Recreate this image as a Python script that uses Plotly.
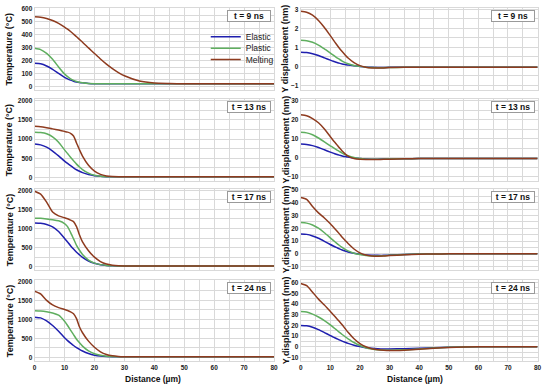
import plotly.graph_objects as go

# ---------------- data ----------------
X = [0, 2, 4, 6, 8, 10, 11, 12, 13, 14, 15, 16, 18, 20, 22, 24, 26, 28, 30, 35, 40, 45, 50, 60, 70, 80]
series_names = ["Elastic", "Plastic", "Melting"]
time_labels = ["t = 9 ns", "t = 13 ns", "t = 17 ns", "t = 24 ns"]

T9_elastic = [180, 175, 158, 132, 100, 70, 58, 48, 40, 34, 30, 27, 23, 21, 20, 20, 20, 20, 20, 20, 20, 20, 20, 20, 20, 20]
T9_plastic = [295, 285, 255, 210, 150, 95, 75, 58, 46, 38, 32, 28, 23, 21, 20, 20, 20, 20, 20, 20, 20, 20, 20, 20, 20, 20]
T9_melting = [540, 536, 526, 510, 488, 460, 443, 425, 405, 385, 363, 342, 298, 255, 212, 172, 137, 107, 82, 42, 26, 22, 20, 20, 20, 20]

T13_elastic = [870, 850, 790, 690, 565, 430, 368, 310, 255, 205, 165, 130, 80, 50, 33, 25, 21, 20, 20, 20, 20, 20, 20, 20, 20, 20]
T13_plastic = [1180, 1170, 1140, 1060, 920, 720, 625, 530, 440, 350, 275, 210, 115, 60, 35, 25, 21, 20, 20, 20, 20, 20, 20, 20, 20, 20]
T13_melting = [1330, 1320, 1295, 1265, 1235, 1200, 1180, 1150, 1080, 900, 720, 560, 320, 170, 85, 45, 28, 22, 20, 20, 20, 20, 20, 20, 20, 20]

T17_elastic = [1145, 1135, 1105, 1040, 920, 740, 645, 550, 462, 380, 310, 245, 150, 90, 52, 33, 24, 21, 20, 20, 20, 20, 20, 20, 20, 20]
T17_plastic = [1270, 1265, 1250, 1230, 1200, 1130, 1050, 900, 730, 560, 430, 320, 175, 95, 55, 35, 25, 21, 20, 20, 20, 20, 20, 20, 20, 20]
T17_melting = [1975, 1900, 1690, 1430, 1330, 1280, 1255, 1220, 1180, 1050, 830, 650, 420, 250, 135, 70, 40, 26, 21, 20, 20, 20, 20, 20, 20, 20]

T24_elastic = [1060, 1040, 960, 840, 690, 520, 445, 380, 315, 260, 212, 170, 105, 62, 38, 27, 22, 20, 20, 20, 20, 20, 20, 20, 20, 20]
T24_plastic = [1230, 1220, 1200, 1170, 1110, 950, 840, 720, 600, 480, 385, 300, 175, 100, 58, 35, 25, 21, 20, 20, 20, 20, 20, 20, 20, 20]
T24_melting = [1740, 1670, 1500, 1380, 1310, 1260, 1235, 1200, 1150, 1020, 800, 650, 430, 270, 150, 80, 45, 28, 22, 20, 20, 20, 20, 20, 20, 20]

D9_elastic = [0.75, 0.73, 0.67, 0.57, 0.45, 0.33, 0.27, 0.22, 0.17, 0.13, 0.10, 0.07, 0.03, 0.0, -0.03, -0.05, -0.06, -0.06, -0.05, -0.05, -0.05, -0.05, -0.05, -0.05, -0.05, -0.05]
D9_plastic = [1.38, 1.35, 1.27, 1.12, 0.92, 0.70, 0.59, 0.48, 0.38, 0.28, 0.20, 0.14, 0.05, 0.0, -0.04, -0.06, -0.07, -0.07, -0.06, -0.05, -0.05, -0.05, -0.05, -0.05, -0.05, -0.05]
D9_melting = [2.90, 2.85, 2.70, 2.42, 2.05, 1.62, 1.40, 1.18, 0.97, 0.78, 0.60, 0.44, 0.20, 0.04, -0.04, -0.08, -0.09, -0.08, -0.06, -0.05, -0.05, -0.05, -0.05, -0.05, -0.05, -0.05]

D13_elastic = [7.1, 6.9, 6.3, 5.3, 4.1, 2.9, 2.35, 1.8, 1.3, 0.9, 0.55, 0.3, -0.2, -0.5, -0.7, -0.8, -0.8, -0.75, -0.7, -0.6, -0.5, -0.5, -0.5, -0.5, -0.5, -0.5]
D13_plastic = [13.3, 13.0, 12.0, 10.3, 8.3, 6.2, 5.2, 4.2, 3.3, 2.4, 1.6, 1.0, 0.1, -0.5, -0.8, -0.9, -0.9, -0.8, -0.7, -0.6, -0.5, -0.5, -0.5, -0.5, -0.5, -0.5]
D13_melting = [22.5, 22.0, 20.5, 18.3, 15.0, 11.0, 9.0, 7.2, 5.3, 3.5, 2.0, 0.8, -0.5, -0.9, -1.0, -1.0, -1.0, -0.9, -0.8, -0.6, -0.5, -0.5, -0.5, -0.5, -0.5, -0.5]

D17_elastic = [15.5, 15.2, 14.0, 12.2, 9.8, 7.3, 6.1, 5.0, 4.0, 3.0, 2.2, 1.5, 0.4, -0.4, -0.9, -1.1, -1.2, -1.2, -1.0, -0.5, -0.2, -0.1, 0, 0, 0, 0]
D17_plastic = [24.5, 24.0, 22.5, 20.0, 16.5, 12.5, 10.5, 8.5, 6.7, 5.0, 3.5, 2.3, 0.5, -0.6, -1.3, -1.6, -1.6, -1.5, -1.2, -0.6, -0.2, -0.1, 0, 0, 0, 0]
D17_melting = [44.0, 42.5, 37.0, 32.0, 28.0, 23.5, 21.0, 18.5, 15.8, 13.0, 10.5, 8.0, 3.8, 0.8, -0.9, -1.6, -1.8, -1.7, -1.4, -0.7, -0.3, -0.1, 0, 0, 0, 0]

D24_elastic = [20.0, 19.6, 18.2, 16.0, 13.3, 10.5, 9.1, 7.8, 6.5, 5.3, 4.2, 3.2, 1.5, 0.2, -0.8, -1.4, -1.8, -2.0, -2.0, -1.8, -1.3, -0.8, -0.4, 0, 0, 0]
D24_plastic = [33.0, 32.5, 30.5, 27.8, 24.5, 20.5, 18.2, 16.0, 13.7, 11.5, 9.4, 7.5, 4.0, 1.2, -0.8, -2.0, -2.7, -3.0, -3.1, -2.8, -2.0, -1.2, -0.5, 0, 0, 0]
D24_melting = [59.0, 57.0, 51.0, 44.5, 39.0, 33.0, 30.0, 27.0, 23.8, 20.5, 17.0, 13.5, 7.5, 3.0, 0.0, -1.8, -2.8, -3.3, -3.5, -3.1, -2.3, -1.3, -0.6, 0, 0, 0]

temp_ticks = [[0, 100, 200, 300, 400, 500, 600], [0, 500, 1000, 1500, 2000], [0, 500, 1000, 1500, 2000], [0, 500, 1000, 1500, 2000]]
disp_ticks = [[-1, 0, 1, 2, 3], [-10, 0, 10, 20, 30], [-10, 0, 10, 20, 30, 40, 50], [-10, 0, 10, 20, 30, 40, 50, 60]]
x_ticks = [0, 10, 20, 30, 40, 50, 60, 70, 80]

# ---------------- styling / layout ----------------
W, H = 550, 386
COLORS = ["#1f1fae", "#5fae5f", "#8e3b1f"]
FONT = "Liberation Sans, Arial, sans-serif"
GRID = "#d9d9d9"

temp_data = [(T9_elastic, T9_plastic, T9_melting), (T13_elastic, T13_plastic, T13_melting),
             (T17_elastic, T17_plastic, T17_melting), (T24_elastic, T24_plastic, T24_melting)]
disp_data = [(D9_elastic, D9_plastic, D9_melting), (D13_elastic, D13_plastic, D13_melting),
             (D17_elastic, D17_plastic, D17_melting), (D24_elastic, D24_plastic, D24_melting)]

rows_px = [(5, 88), (97, 179), (187.5, 269.5), (279.5, 361)]
left_tick_px = [(6, 84), (98.3, 176), (188.7, 265.8), (280.5, 357.3)]
right_tick_px = [(6.5, 83), (98.3, 175), (188.3, 265.7), (281.7, 357.3)]
left_x_px = (33, 275)
right_x_px = (302, 541.5)
legend_names = ["legend", "legend2", "legend3"]
legend_y_px = [34, 45.5, 57]


def rng(ticks, tpx, rpx):
    lo, hi = ticks[0], ticks[-1]
    upp = (hi - lo) / (tpx[1] - tpx[0])
    return [lo - (rpx[1] - tpx[1]) * upp, hi + (tpx[0] - rpx[0]) * upp]


def ydom(rpx):
    return [1 - rpx[1] / H, 1 - rpx[0] / H]


fig = go.Figure()
layout = {}
annotations = []
tickfont = dict(family=FONT, size=6.5, color="#222", weight="bold")

for r in range(4):
    for c in range(2):
        idx = r * 2 + c + 1
        xa = "xaxis" if idx == 1 else f"xaxis{idx}"
        ya = "yaxis" if idx == 1 else f"yaxis{idx}"
        xr = "x" if idx == 1 else f"x{idx}"
        yr = "y" if idx == 1 else f"y{idx}"
        data = temp_data[r] if c == 0 else disp_data[r]
        ticks = temp_ticks[r] if c == 0 else disp_ticks[r]
        tpx = left_tick_px[r] if c == 0 else right_tick_px[r]
        xpx = left_x_px if c == 0 else right_x_px
        for k in range(3):
            fig.add_trace(go.Scatter(
                x=X, y=data[k], mode="lines", name=series_names[k],
                line=dict(color=COLORS[k], width=1.5, shape="spline", smoothing=0.6),
                xaxis=xr, yaxis=yr, showlegend=(idx == 1), legend=legend_names[k],
            ))
        dt = ticks[1] - ticks[0]
        layout[xa] = dict(
            domain=[xpx[0] / W, xpx[1] / W], range=[0, 80], anchor=yr,
            tickvals=x_ticks, showticklabels=(r == 3), tickfont=tickfont,
            showgrid=True, gridcolor=GRID, gridwidth=1, zeroline=False,
            minor=dict(dtick=5, showgrid=True, gridcolor=GRID, gridwidth=1),
            showline=True, linecolor=GRID, mirror=True, ticks="",
        )
        layout[ya] = dict(
            domain=ydom(rows_px[r]), range=rng(ticks, tpx, rows_px[r]), anchor=xr,
            tickvals=ticks, tickfont=tickfont, ticks="",
            showgrid=True, gridcolor=GRID, gridwidth=1, zeroline=False,
            minor=dict(dtick=dt / 2, showgrid=True, gridcolor=GRID, gridwidth=1),
            showline=True, linecolor=GRID, mirror=True,
        )
        annotations.append(dict(
            text=f"<b>{time_labels[r]}</b>", xref=f"{xr} domain", yref=f"{yr} domain",
            x=1, y=1, xanchor="right", yanchor="top", xshift=-3, yshift=-2,
            showarrow=False, font=dict(family=FONT, size=8.5, color="#111"),
            bgcolor="white", bordercolor="#9a9a9a", borderwidth=1, borderpad=0,
            width=42, align="center",
        ))
        title = "Temperature (°C)" if c == 0 else "Y displacement (nm)"
        xc = 7.5 if c == 0 else 286.7
        yc = (rows_px[r][0] + rows_px[r][1]) / 2
        annotations.append(dict(
            text=f"<b>{title}</b>", xref="paper", yref="paper",
            x=xc / W, y=1 - yc / H, xanchor="center", yanchor="middle",
            textangle=-90, showarrow=False, font=dict(family=FONT, size=9, color="#111"),
        ))

for xc in (153, 418):
    annotations.append(dict(
        text="<b>Distance (µm)</b>", xref="paper", yref="paper",
        x=xc / W, y=1 - 378.5 / H, xanchor="center", yanchor="middle",
        showarrow=False, font=dict(family=FONT, size=8.5, color="#111"),
    ))

legends = {}
for k, ln in enumerate(legend_names):
    legends[ln] = dict(x=206 / W, y=1 - legend_y_px[k] / H, xanchor="left", yanchor="middle",
                       font=dict(family=FONT, size=8.5, color="#222"), bgcolor="rgba(0,0,0,0)",
                       itemwidth=30, borderwidth=0)

fig.update_layout(
    width=W, height=H, margin=dict(l=0, r=0, t=0, b=0),
    paper_bgcolor="white", plot_bgcolor="white",
    annotations=annotations,
    **legends,
    **layout,
)

fig.write_html("out.html", config={"displayModeBar": False},
               post_script="document.body.style.margin='0px';document.body.style.overflow='hidden';")
